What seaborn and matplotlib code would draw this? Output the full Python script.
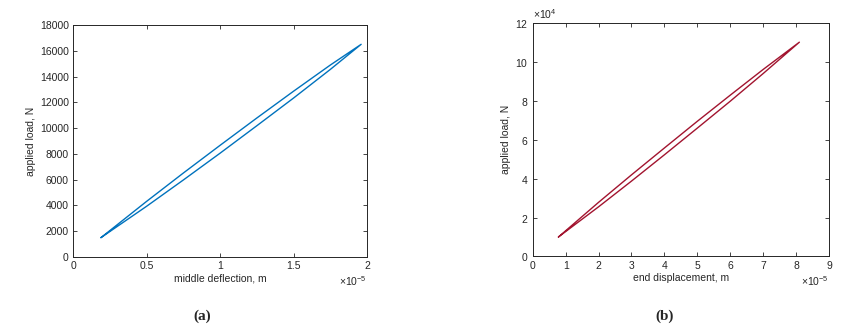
import numpy as np
import pandas as pd
import matplotlib
matplotlib.use('Agg')
import matplotlib.pyplot as plt
from matplotlib.ticker import FuncFormatter
import seaborn as sns

# (a) middle deflection loop, x in m, y in N
defl_load = [0.19e-5, 0.5e-5, 0.75e-5, 1.0e-5, 1.25e-5, 1.5e-5, 1.75e-5, 1.96e-5]
force_load = [1500, 3930, 5970, 8050, 10180, 12330, 14550, 16500]
defl_unload = [1.96e-5, 1.75e-5, 1.5e-5, 1.25e-5, 1.0e-5, 0.75e-5, 0.5e-5, 0.19e-5]
force_unload = [16500, 14890, 12860, 10780, 8660, 6510, 4310, 1500]

# (b) end displacement loop, x in m, y in N
disp_load = [0.78e-5, 2e-5, 3e-5, 4e-5, 5e-5, 6e-5, 7e-5, 8.1e-5]
end_force_load = [1.0e4, 2.55e4, 3.87e4, 5.22e4, 6.59e4, 7.97e4, 9.39e4, 11.0e4]
disp_unload = [8.1e-5, 7e-5, 6e-5, 5e-5, 4e-5, 3e-5, 2e-5, 0.78e-5]
end_force_unload = [11.0e4, 9.60e4, 8.28e4, 6.94e4, 5.57e4, 4.19e4, 2.78e4, 1.0e4]

sns.set_style('ticks')
plt.rcParams['font.family'] = ['Liberation Sans', 'DejaVu Sans']
plt.rcParams['mathtext.fontset'] = 'custom'
plt.rcParams['mathtext.rm'] = 'Liberation Sans'

df_a = pd.DataFrame({'x': defl_load + defl_unload, 'y': force_load + force_unload})
df_b = pd.DataFrame({'x': disp_load + disp_unload, 'y': end_force_load + end_force_unload})

fig = plt.figure(figsize=(8.63, 3.27), dpi=100)
ax1 = fig.add_axes([0.0846, 0.2141, 0.3407, 0.7095])
ax2 = fig.add_axes([0.6173, 0.2156, 0.3433, 0.7150])

text_col = '#262626'
fs = 7.5

sns.lineplot(data=df_a, x='x', y='y', sort=False, estimator=None, ax=ax1,
             color='#0072BD', linewidth=1.0)
sns.lineplot(data=df_b, x='x', y='y', sort=False, estimator=None, ax=ax2,
             color='#A2142F', linewidth=1.0)

# x ticks shown in units of 1e-5 m, MATLAB style
xfmt = FuncFormatter(lambda v, p: f'{v / 1e-5:g}')

ax1.set_xlim(0, 2e-5)
ax1.set_ylim(0, 18000)
ax1.set_xticks(np.arange(0, 2.01e-5, 0.5e-5))
ax1.set_yticks(np.arange(0, 18001, 2000))
ax1.xaxis.set_major_formatter(xfmt)
ax1.set_xlabel('middle deflection, m', fontsize=fs, color=text_col, labelpad=2)
ax1.set_ylabel('applied load, N', fontsize=fs, color=text_col, labelpad=3)

ax2.set_xlim(0, 9e-5)
ax2.set_ylim(0, 12e4)
ax2.set_xticks(np.arange(0, 9.01e-5, 1e-5))
ax2.set_yticks(np.arange(0, 12.01e4, 2e4))
ax2.xaxis.set_major_formatter(xfmt)
ax2.ticklabel_format(axis='y', style='sci', scilimits=(4, 4), useMathText=True)
ax2.set_xlabel('end displacement, m', fontsize=fs, color=text_col, labelpad=2)
ax2.set_ylabel('applied load, N', fontsize=fs, color=text_col, labelpad=3)

for ax in (ax1, ax2):
    ax.tick_params(direction='in', length=3, width=0.6, top=True, right=True,
                   labelsize=fs, colors=text_col, pad=3)
    for s in ax.spines.values():
        s.set_linewidth(0.7)
        s.set_color(text_col)
    ax.yaxis.get_offset_text().set_fontsize(fs)
    ax.yaxis.get_offset_text().set_color(text_col)
    ax.text(1.0, -0.075, r'$\times10^{-5}$', transform=ax.transAxes,
            ha='right', va='top', fontsize=fs, color=text_col)

fig.text(202 / 863, 1 - 316 / 327, '(a)', ha='center', va='center',
         fontsize=11, fontweight='bold', family='Liberation Serif')
fig.text(665 / 863, 1 - 316 / 327, '(b)', ha='center', va='center',
         fontsize=11, fontweight='bold', family='Liberation Serif')

fig.savefig('out.png', dpi=100)
plt.close(fig)
